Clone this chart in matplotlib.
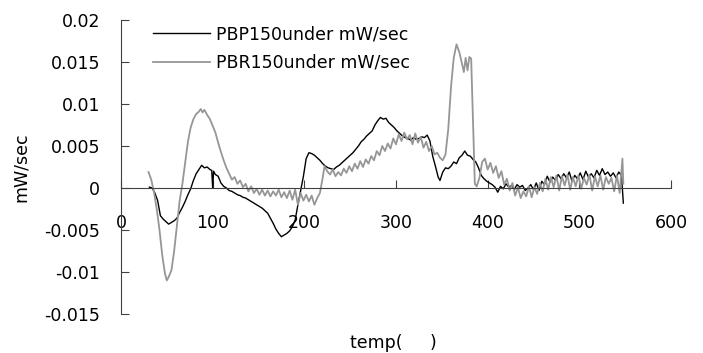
import numpy as np
import matplotlib
matplotlib.use("Agg")
from matplotlib import pyplot as plt

plt.rcParams['font.family'] = ['DejaVu Sans']

# PBP150 (black) - temp, value in 1e-3 mW/sec
pbp_x = [31, 34, 37, 40, 43, 46, 49, 52, 55, 58, 61, 64, 67, 70, 73, 76, 79, 82, 85, 88,
         91, 94, 97, 99, 100, 101, 103, 106, 109, 112, 115, 118, 121, 124, 127, 130, 133,
         136, 139, 142, 145, 148, 151, 154, 157, 160, 163, 166, 169, 172, 175, 178, 181,
         184, 187, 190, 193, 196, 199, 202, 205, 208, 211, 214, 217, 220, 223, 226, 229,
         232, 235, 238, 241, 244, 247, 250, 253, 256, 259, 262, 265, 268, 271, 274, 277,
         280, 283, 286, 289, 292, 295, 298, 301, 304, 307, 310, 313, 316, 319, 322, 325,
         328, 331, 334, 337, 340, 343, 346, 348, 351, 354, 357, 360, 363, 366, 369, 372,
         375, 378, 381, 384, 387, 390, 393, 396, 399, 402, 405, 408, 411, 414, 417, 420,
         423, 426, 429, 432, 435, 438, 441, 444, 447, 450, 453, 456, 459, 462, 465, 468,
         471, 474, 477, 480, 483, 486, 489, 492, 495, 498, 501, 504, 507, 510, 513, 516,
         519, 522, 525, 528, 531, 534, 537, 540, 543, 546, 548]
pbp_y = [0.1, 0.0, -0.6, -1.5, -3.3, -3.7, -4.0, -4.3, -4.1, -3.9, -3.6, -2.9, -2.3, -1.6,
         -0.8, -0.1, 0.9, 1.7, 2.2, 2.7, 2.4, 2.5, 2.2, 2.1, 0.0, 2.0, 1.6, 1.4, 0.6, 0.2,
         0.0, -0.3, -0.4, -0.6, -0.8, -0.9, -1.1, -1.2, -1.4, -1.6, -1.8, -2.0, -2.2, -2.4,
         -2.7, -3.0, -3.6, -4.2, -4.9, -5.4, -5.8, -5.6, -5.4, -5.1, -4.6, -3.8, -2.0, -0.3,
         1.4, 3.5, 4.2, 4.1, 3.9, 3.6, 3.3, 2.9, 2.6, 2.4, 2.3, 2.2, 2.5, 2.7, 3.0, 3.3,
         3.6, 3.9, 4.2, 4.6, 5.0, 5.5, 5.8, 6.2, 6.5, 6.8, 7.5, 8.0, 8.4, 8.2, 8.3, 7.8,
         7.5, 7.2, 6.8, 6.5, 6.2, 6.0, 5.9, 5.7, 6.0, 5.8, 5.9, 6.1, 6.0, 6.3, 5.6, 3.8,
         2.6, 1.3, 0.9, 1.9, 2.4, 2.3, 2.6, 3.1, 2.9, 3.6, 3.9, 4.4, 3.9, 3.8, 3.4, 3.1,
         2.4, 1.5, 1.1, 0.8, 0.6, 0.4, 0.1, -0.5, 0.2, -0.1, 0.5, 0.1, 0.3, -0.2, 0.4, 0.1,
         0.3, -0.3, 0.0, 0.4, -0.2, 0.6, -0.3, 0.8, 0.4, 1.4, 0.7, 1.3, 0.9, 1.6, 1.1, 1.7,
         1.2, 1.9, 0.8, 1.5, 1.1, 1.8, 1.0, 2.0, 1.3, 1.7, 1.2, 2.1, 1.5, 2.3, 1.6, 1.9,
         1.4, 1.8, 1.2, 1.9, 1.5, -1.8]

# PBR150 (gray)
pbr_x = [30, 33, 36, 39, 42, 45, 48, 50, 52, 55, 58, 61, 64, 67, 70, 73, 76, 79, 82, 85,
         87, 89, 91, 94, 97, 100, 103, 106, 109, 112, 115, 118, 121, 124, 127, 130, 133,
         136, 139, 142, 145, 148, 151, 154, 157, 160, 163, 166, 169, 172, 175, 178, 181,
         184, 187, 190, 193, 196, 199, 202, 205, 208, 211, 214, 217, 220, 222, 225, 228,
         231, 234, 237, 240, 243, 246, 249, 252, 255, 258, 261, 264, 267, 270, 273, 276,
         279, 282, 285, 288, 291, 294, 297, 300, 303, 306, 309, 312, 315, 318, 321, 324,
         327, 330, 333, 336, 339, 342, 345, 348, 351, 354, 357, 360, 363, 366, 369, 372,
         374, 376, 378, 380, 382, 384, 386, 388, 391, 394, 397, 400, 403, 406, 409, 412,
         415, 418, 421, 424, 427, 430, 433, 436, 439, 442, 445, 448, 451, 454, 457, 460,
         463, 466, 469, 472, 475, 478, 481, 484, 487, 490, 493, 496, 499, 502, 505, 508,
         511, 514, 517, 520, 523, 526, 529, 532, 535, 538, 541, 544, 547, 548]
pbr_y = [1.9, 1.0, -0.5, -2.5, -5.0, -8.0, -10.2, -11.0, -10.6, -9.8, -7.5, -4.5, -1.5,
         0.5, 3.0, 5.5, 7.2, 8.2, 8.8, 9.1, 9.4, 9.0, 9.3, 8.7, 8.2, 7.4, 6.6, 5.4, 4.3,
         3.3, 2.4, 1.7, 1.0, 1.3, 0.5, 0.9, 0.1, 0.5, -0.4, 0.2, -0.6, -0.1, -0.8, -0.2,
         -0.9, -0.3, -1.0, -0.4, -0.9, -0.2, -1.1, -0.5, -1.2, -0.3, -1.4, -0.2, -2.0, -0.6,
         -1.5, -0.8, -1.6, -0.9, -2.0, -1.2, -0.6, 1.2, 2.6, 2.0, 1.6, 2.2, 1.4, 1.9, 1.5,
         2.3, 1.8, 2.6, 2.0, 2.9, 2.3, 3.2, 2.5, 3.4, 2.9, 3.8, 3.3, 4.4, 3.9, 5.0, 4.4,
         5.3, 4.7, 5.9, 5.2, 6.4, 5.6, 6.6, 5.8, 6.3, 5.2, 6.5, 5.4, 6.1, 4.8, 5.5, 4.4,
         5.0, 4.0, 4.2, 3.6, 3.3, 4.0, 7.0, 12.0, 15.5, 17.1, 16.2, 14.8, 13.8, 15.5, 14.0,
         15.6, 15.4, 8.0, 0.5, 0.2, 1.2, 3.1, 3.5, 2.2, 3.0, 1.8, 2.6, 1.2, 2.0, 0.4, 1.1,
         -0.3, 0.6, -0.9, 0.1, -1.2, -0.4, -1.0, 0.2, -1.1, 0.1, -0.7, 0.6, -0.4, 1.1, -0.2,
         1.3, 0.1, 1.5, -0.3, 1.4, 0.3, 1.6, -0.2, 1.3, 0.2, 1.5, -0.1, 1.2, 0.4, 1.6, -0.3,
         1.4, 0.2, 1.5, -0.2, 1.3, 0.5, 1.2, -0.4, 1.5, -0.6, 3.5, 0.5]

xticks = [0, 100, 200, 300, 400, 500, 600]
yticks = [-0.015, -0.01, -0.005, 0, 0.005, 0.01, 0.015, 0.02]
ytick_labels = ["-0.015", "-0.01", "-0.005", "0", "0.005", "0.01", "0.015", "0.02"]

fig = plt.figure(figsize=(7.03, 3.53), dpi=100)
ax = fig.add_axes([0.1721, 0.1105, 0.7824, 0.8328])

ax.plot(pbp_x, np.array(pbp_y) / 1000, color='black', lw=1.0, label='PBP150under mW/sec')
ax.plot(pbr_x, np.array(pbr_y) / 1000, color='#969696', lw=1.3, label='PBR150under mW/sec')

ax.set_xlim(0, 600)
ax.set_ylim(-0.015, 0.02)
ax.spines['top'].set_visible(False)
ax.spines['right'].set_visible(False)
ax.spines['bottom'].set_position(('data', 0))
ax.spines['bottom'].set_color('#404040')
ax.spines['left'].set_color('#404040')
ax.set_xticks(xticks)
ax.set_yticks(yticks)
ax.set_yticklabels(ytick_labels)
ax.tick_params(axis='x', direction='in', length=6, pad=19, labelsize=12.5, color='#404040')
ax.tick_params(axis='y', direction='in', length=6, pad=15, labelsize=12.5, color='#404040')

ax.set_xlabel('temp(     )', fontsize=12.5)
ax.xaxis.set_label_coords(0.496, -0.068)
ax.set_ylabel('mW/sec', fontsize=12.5)
ax.yaxis.set_label_coords(-0.165, 0.5)

ax.legend(loc='upper left', bbox_to_anchor=(0.058, 0.982), frameon=False, fontsize=12.5,
          handlelength=3.3, handletextpad=0.35, labelspacing=0.6, borderpad=0,
          borderaxespad=0)

plt.savefig('out.png', dpi=100)
